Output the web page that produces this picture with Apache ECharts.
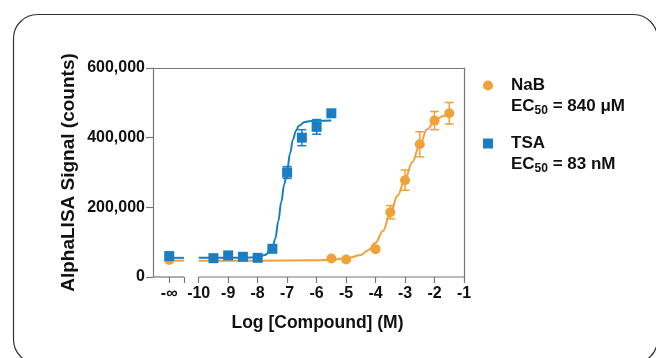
<!DOCTYPE html>
<html>
<head>
<meta charset="utf-8">
<script src="https://cdn.jsdelivr.net/npm/echarts@6/dist/echarts.min.js"></script>
<style>
  html, body { margin: 0; padding: 0; background: #fff; }
  #chart { width: 656px; height: 358px; }
</style>
</head>
<body>
<div id="chart"></div>
<script>
// log [compound] positions; -11 stands for the -inf (no compound) point
const xTickValues = [-11, -10, -9, -8, -7, -6, -5, -4, -3, -2, -1]
const xBreakTick = -10.5
const yTicks = [0, 200000, 400000, 600000]

// NaB measured points (mean, error)
const nabX = [-11, -5.5, -5, -4, -3.5, -3, -2.5, -2, -1.5]
const nabY = [49000, 53000, 50000, 80000, 186000, 278000, 381000, 449000, 470000]
const nabErr = [0, 0, 0, 0, 19000, 29000, 36000, 26000, 31000]

// TSA measured points
const tsaX = [-11, -9.5, -9, -8.5, -8, -7.5, -7, -6.5, -6, -5.5]
const tsaY = [60000, 54000, 62000, 58000, 55000, 81000, 300000, 400000, 431000, 470000]
const tsaErr = [0, 0, 0, 0, 0, 4000, 17000, 23000, 21000, 0]

// fitted curves
const nabFitX = [-10, -8, -6, -5.5, -5, -4.5, -4.25, -4, -3.75, -3.5, -3.25, -3, -2.75, -2.5, -2.25, -2, -1.75, -1.5]
const nabFitY = [47000, 47000, 48000, 50000, 53000, 63000, 77000, 98000, 132000, 184000, 234000, 281000, 330000, 380000, 424000, 448000, 461000, 470000]
const tsaFitX = [-10, -8.5, -8, -7.75, -7.5, -7.4, -7.3, -7.2, -7.1, -7, -6.9, -6.8, -6.7, -6.6, -6.4, -6.2, -5.5]
const tsaFitY = [55000, 55000, 57000, 63000, 85000, 110000, 160000, 215000, 265000, 305000, 355000, 395000, 420000, 434000, 445000, 448000, 449000]

// short fit stubs at -inf
const stubX = [-11.15, -10.5]
const nabStubY = 47000
const tsaStubY = 55000

// bottom axis drawn in two pieces around the break
const axisPieces = [[-11.55, -10.5], [-10, -1]]

const orange = '#F0A13A'
const blue = '#1B7EC2'
const axisColor = '#777'
const font = "'Liberation Sans', Arial, Helvetica, sans-serif"

const zip = (xs, ys) => xs.map((x, i) => [x, ys[i]])
const zip3 = (xs, ys, es) => xs.map((x, i) => [x, ys[i], es[i]])

function errorBars(params, api) {
  const x = api.value(0)
  const y = api.value(1)
  const e = api.value(2)
  if (!e) return null
  const top = api.coord([x, y + e])
  const bot = api.coord([x, y - e])
  const half = 4.5
  const style = { stroke: api.visual('color'), lineWidth: 1.5 }
  return {
    type: 'group',
    children: [
      { type: 'line', shape: { x1: top[0], y1: top[1], x2: bot[0], y2: bot[1] }, style },
      { type: 'line', shape: { x1: top[0] - half, y1: top[1], x2: top[0] + half, y2: top[1] }, style },
      { type: 'line', shape: { x1: bot[0] - half, y1: bot[1], x2: bot[0] + half, y2: bot[1] }, style }
    ]
  }
}

const chart = echarts.init(document.getElementById('chart'))

const axisSeries = axisPieces.map(p => ({
  type: 'line',
  data: [[p[0], 0], [p[1], 0]],
  symbol: 'none',
  clip: false,
  silent: true,
  lineStyle: { color: axisColor, width: 1.2 },
  z: 1
}))

const ecRich = {
  a: { fontFamily: font, fontSize: 17, fontWeight: 'bold', fill: '#111' },
  s: { fontFamily: font, fontSize: 12, fontWeight: 'bold', fill: '#111', padding: [9, 0, 0, 0] }
}

const option = {
  animation: false,
  textStyle: { fontFamily: font },
  grid: { left: 153, right: 192, top: 68, bottom: 81, containLabel: false },
  legend: {
    orient: 'vertical',
    left: 478,
    top: 72,
    itemGap: 41,
    itemWidth: 10,
    itemHeight: 10,
    data: [
      { name: 'NaB', icon: 'circle' },
      { name: 'TSA', icon: 'rect' }
    ],
    textStyle: { fontFamily: font, fontSize: 17, fontWeight: 'bold', color: '#111', padding: [0, 0, 0, 13] }
  },
  graphic: [
    { type: 'text', left: 511, top: 98, style: { text: '{a|EC}{s|50}{a| = 840 μM}', rich: ecRich } },
    { type: 'text', left: 511, top: 156, style: { text: '{a|EC}{s|50}{a| = 83 nM}', rich: ecRich } },
    {
      type: 'rect', left: 11, top: 12, silent: true, z: -1,
      shape: { width: 644, height: 349, r: 24 },
      style: { fill: 'none', stroke: '#333', lineWidth: 1.2 }
    }
  ],
  xAxis: [
    {
      type: 'value',
      min: -11.55,
      max: -1,
      name: 'Log [Compound] (M)',
      nameLocation: 'middle',
      nameGap: 37,
      nameTextStyle: { fontFamily: font, fontSize: 17.5, fontWeight: 'bold', color: '#111', padding: [0, 0, 0, 18] },
      axisLine: { show: false },
      axisTick: {
        show: true, inside: false, length: 6,
        customValues: [xTickValues[0], xBreakTick].concat(xTickValues.slice(1)),
        lineStyle: { color: axisColor, width: 1.2 }
      },
      axisLabel: {
        customValues: xTickValues,
        margin: 9,
        fontFamily: font, fontSize: 16, fontWeight: 'bold', color: '#111',
        formatter: v => (v === -11 ? '-∞' : String(v))
      },
      splitLine: { show: false }
    },
    {
      type: 'value', position: 'top', min: -11.55, max: -1,
      axisLine: { show: true, onZero: false, lineStyle: { color: axisColor, width: 1.2 } },
      axisTick: { show: false }, axisLabel: { show: false }, splitLine: { show: false }
    }
  ],
  yAxis: [
    {
      type: 'value',
      min: 0,
      max: 600000,
      interval: 200000,
      name: 'AlphaLISA Signal (counts)',
      nameLocation: 'middle',
      nameGap: 75,
      nameTextStyle: { fontFamily: font, fontSize: 19, fontWeight: 'bold', color: '#111' },
      axisLine: { show: true, onZero: false, lineStyle: { color: axisColor, width: 1.2 } },
      axisTick: { show: true, inside: false, length: 7, lineStyle: { color: axisColor, width: 1.2 } },
      axisLabel: {
        margin: 8,
        fontFamily: font, fontSize: 16, fontWeight: 'bold', color: '#111',
        customValues: yTicks,
        formatter: v => v.toLocaleString('en-US')
      },
      splitLine: { show: false }
    },
    {
      type: 'value', position: 'right', min: 0, max: 600000,
      axisLine: { show: true, onZero: false, lineStyle: { color: axisColor, width: 1.2 } },
      axisTick: { show: false }, axisLabel: { show: false }, splitLine: { show: false }
    }
  ],
  series: axisSeries.concat([
    {
      name: 'NaB fit', type: 'line', data: zip(nabFitX, nabFitY), smooth: 0.4, smoothMonotone: 'x',
      symbol: 'none', lineStyle: { color: orange, width: 2 }, z: 2
    },
    {
      name: 'NaB stub', type: 'line', data: stubX.map(x => [x, nabStubY]),
      symbol: 'none', lineStyle: { color: orange, width: 2 }, z: 2
    },
    {
      name: 'TSA fit', type: 'line', data: zip(tsaFitX, tsaFitY), smooth: 0.4, smoothMonotone: 'x',
      symbol: 'none', lineStyle: { color: blue, width: 2 }, z: 3
    },
    {
      name: 'TSA stub', type: 'line', data: stubX.map(x => [x, tsaStubY]),
      symbol: 'none', lineStyle: { color: blue, width: 2 }, z: 3
    },
    {
      name: 'NaB err', type: 'custom', renderItem: errorBars, data: zip3(nabX, nabY, nabErr),
      itemStyle: { color: orange }, z: 4
    },
    {
      name: 'TSA err', type: 'custom', renderItem: errorBars, data: zip3(tsaX, tsaY, tsaErr),
      itemStyle: { color: blue }, z: 4
    },
    {
      name: 'NaB', type: 'scatter', data: zip(nabX, nabY), symbol: 'circle', symbolSize: 10,
      itemStyle: { color: orange, opacity: 1 }, z: 5
    },
    {
      name: 'TSA', type: 'scatter', data: zip(tsaX, tsaY), symbol: 'rect', symbolSize: 10,
      itemStyle: { color: blue, opacity: 1 }, z: 5
    }
  ])
}

chart.setOption(option)
</script>
</body>
</html>
